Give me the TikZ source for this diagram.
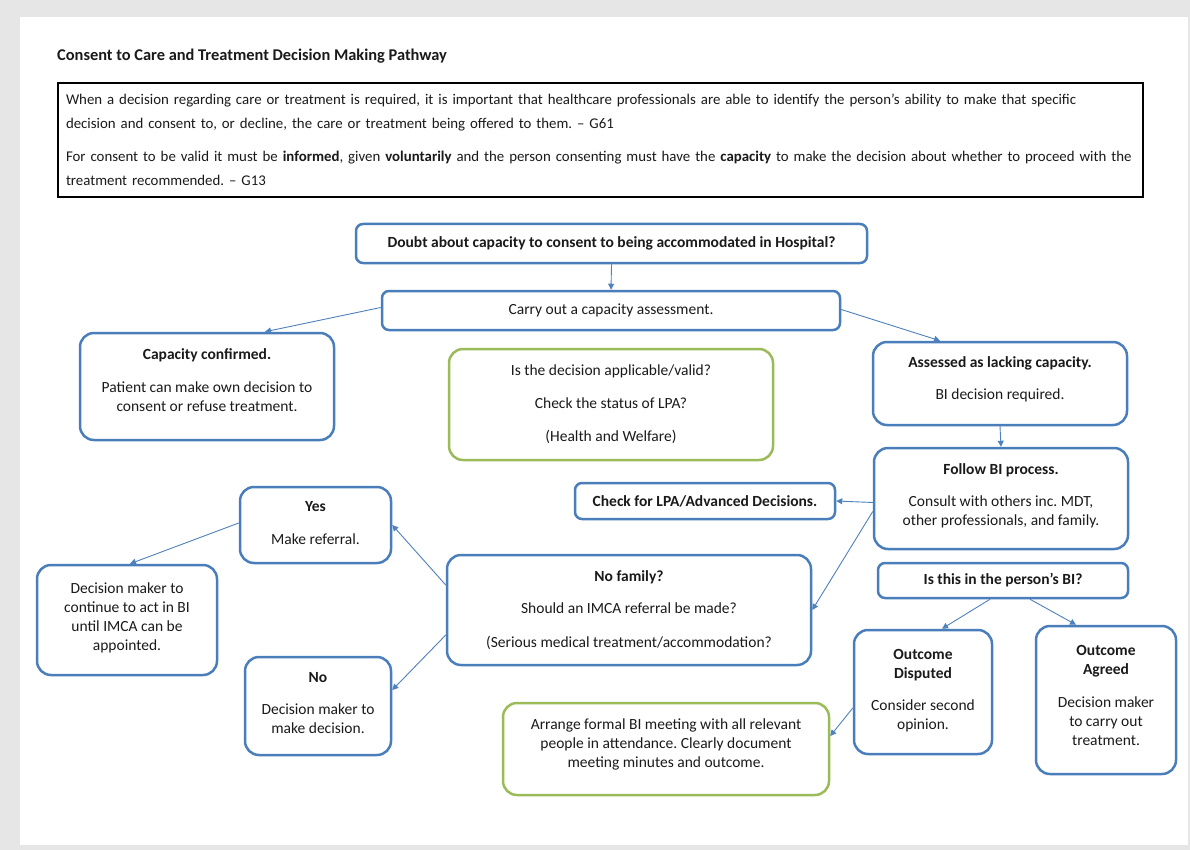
\documentclass[tikz,border=0pt]{standalone}
\usepackage{fontspec}
\setmainfont{Carlito}
\usetikzlibrary{arrows.meta,calc}
\frenchspacing
\definecolor{boxblue}{HTML}{4A7EBB}
\definecolor{boxgreen}{HTML}{9BBB59}
\definecolor{arrblue}{HTML}{4F81BD}
\definecolor{pagegray}{HTML}{E6E6E6}
\definecolor{txt}{HTML}{1A1A1A}
\tikzset{
  bx/.style={draw=boxblue, line width=2.5pt, rounded corners=14pt, fill=white, align=center,
    text=txt, font=\fontsize{15.5}{19}\selectfont, inner sep=2pt},
  sbx/.style={bx, rounded corners=7pt},
  gbx/.style={bx, draw=boxgreen},
  arr/.style={draw=arrblue, line width=0.9pt, -{Triangle[width=6pt,length=6pt]}},
}
\begin{document}
\begin{tikzpicture}[x=1pt,y=-1pt]
\useasboundingbox (0,0) rectangle (1190,850);
\fill[pagegray] (0,0) rectangle (1190,850);
\fill[white] (20,17) rectangle (1188,845);

\node[anchor=west, font=\bfseries\fontsize{16.4}{18}\selectfont, text=txt, inner sep=0pt] (title) at (57,56)
  {Consent to Care and Treatment Decision Making Pathway};

\node[draw=black, line width=2.5pt, minimum width=1085pt, minimum height=114pt, text width=1069pt,
  align=left, inner sep=0pt, text=txt, font=\fontsize{14.85}{24}\selectfont] (intro) at (600.5,140)
  {\mbox{When a decision regarding care or treatment is required, it is important that healthcare professionals are able to identify the person’s ability to make that specific}\\
   \mbox{decision and consent to, or decline, the care or treatment being offered to them. – G61}\\[9pt]
   \mbox{For consent to be valid it must be \textbf{informed}, given \textbf{voluntarily} and the person consenting must have the \textbf{capacity} to make the decision about whether to proceed with the}\\
   \mbox{treatment recommended. – G13}};

\node[sbx, minimum width=511pt, minimum height=39pt] (doubt) at (611.5,243.5)
  {\textbf{Doubt about capacity to consent to being accommodated in Hospital?}};
\node[sbx, minimum width=458pt, minimum height=39pt] (carry) at (611,310.5)
  {Carry out a capacity assessment.};
\node[bx, minimum width=254pt, minimum height=107pt, text depth=12pt] (capconf) at (207,386.5)
  {\textbf{Capacity confirmed.}\\[14pt]Patient can make own decision to\\consent or refuse treatment.};
\node[gbx, minimum width=324pt, minimum height=111pt] (valid) at (611,404.5)
  {Is the decision applicable/valid?\\[14pt]Check the status of LPA?\\[14pt](Health and Welfare)};
\node[bx, minimum width=254pt, minimum height=83pt, text depth=10pt] (assessed) at (1000,383.5)
  {\textbf{Assessed as lacking capacity.}\\[13pt]BI decision required.};
\node[bx, minimum width=254pt, minimum height=101pt, text depth=7pt] (follow) at (1001,498.5)
  {\textbf{Follow BI process.}\\[13pt]Consult with others inc. MDT,\\other professionals, and family.};
\node[sbx, minimum width=260pt, minimum height=36pt] (lpa) at (705,501)
  {\textbf{Check for LPA/Advanced Decisions.}};
\node[bx, minimum width=151pt, minimum height=76pt, text depth=4pt] (yes) at (315.5,525)
  {\textbf{Yes}\\[14pt]Make referral.};
\node[bx, minimum width=180pt, minimum height=110pt, text depth=7pt] (dmcont) at (127,620)
  {Decision maker to\\continue to act in BI\\until IMCA can be\\appointed.};
\node[bx, minimum width=364pt, minimum height=110pt] (nofam) at (629,610)
  {\textbf{No family?}\\[13pt]Should an IMCA referral be made?\\[15pt](Serious medical treatment/accommodation?};
\node[sbx, minimum width=250pt, minimum height=35pt] (isbi) at (1003,580.5)
  {\textbf{Is this in the person’s BI?}};
\node[bx, minimum width=146pt, minimum height=98pt, text depth=6pt] (no) at (318,706)
  {\textbf{No}\\[13pt]Decision maker to\\make decision.};
\node[bx, minimum width=138pt, minimum height=124pt, text depth=6pt] (disp) at (923,692)
  {\textbf{Outcome}\\\textbf{Disputed}\\[13pt]Consider second\\opinion.};
\node[bx, minimum width=140pt, minimum height=148pt, text depth=9pt] (agreed) at (1106,700)
  {\textbf{Outcome}\\\textbf{Agreed}\\[14pt]Decision maker\\to carry out\\treatment.};
\node[gbx, minimum width=326pt, minimum height=92pt, text depth=12pt] (meet) at (666,749)
  {Arrange formal BI meeting with all relevant\\people in attendance. Clearly document\\meeting minutes and outcome.};

\draw[arr] (doubt.south) -- (carry.north);
\draw[arr] ([yshift=3pt]carry.west) -- ([xshift=58pt]capconf.north);
\draw[arr] ([yshift=1pt]carry.east) -- ([xshift=-60pt]assessed.north);
\draw[arr] (assessed.south) -- (follow.north);
\draw[arr] ([yshift=-4pt]follow.west) -- (lpa.east);
\draw[arr] ([yshift=-13pt]follow.west) -- (nofam.east);
\draw[arr] ([yshift=25pt]nofam.west) -- (yes.east);
\draw[arr] ([yshift=-25pt]nofam.west) -- ([yshift=16pt]no.east);
\draw[arr] ([yshift=2pt]yes.west) -- ([xshift=3pt]dmcont.north);
\draw[arr] ([xshift=-13pt]isbi.south) -- ([xshift=19pt]disp.north);
\draw[arr] ([xshift=27pt]isbi.south) -- ([xshift=-30pt]agreed.north);
\draw[arr] ([yshift=-16pt]disp.west) -- ([yshift=13pt]meet.east);
\end{tikzpicture}
\end{document}
